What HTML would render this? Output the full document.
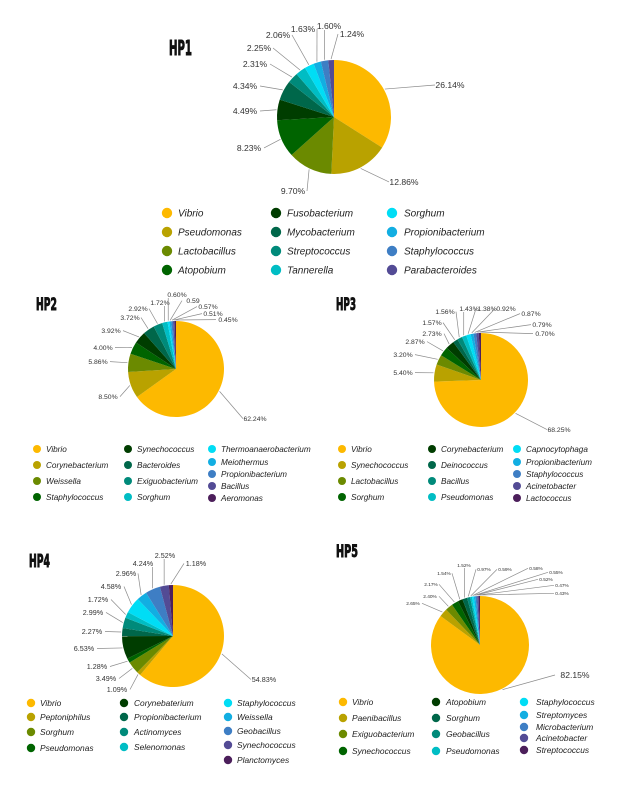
<!DOCTYPE html>
<html><head><meta charset="utf-8"><title>Microbial composition pies</title>
<style>
html,body{margin:0;padding:0;background:#fff;}
svg{display:block;}
</style></head>
<body>
<svg id="fig" xmlns="http://www.w3.org/2000/svg" width="619" height="800" viewBox="0 0 619 800"></svg>
<script>
// ===== data =====
const hp1Categories = ["Vibrio","Pseudomonas","Lactobacillus","Atopobium","Fusobacterium","Mycobacterium","Streptococcus","Tannerella","Sorghum","Propionibacterium","Staphylococcus","Parabacteroides"];
const hp1Values = [26.14,12.86,9.70,8.23,4.49,4.34,2.31,2.25,2.06,1.63,1.60,1.24];
const hp1Labels = ["26.14%","12.86%","9.70%","8.23%","4.49%","4.34%","2.31%","2.25%","2.06%","1.63%","1.60%","1.24%"];

const hp2Categories = ["Vibrio","Corynebacterium","Weissella","Staphylococcus","Synechococcus","Bacteroides","Exiguobacterium","Sorghum","Thermoanaerobacterium","Meiothermus","Propionibacterium","Bacillus","Aeromonas"];
const hp2Values = [62.24,8.50,5.86,4.00,3.92,3.72,2.92,1.72,0.60,0.59,0.57,0.51,0.45];
const hp2Labels = ["62.24%","8.50%","5.86%","4.00%","3.92%","3.72%","2.92%","1.72%","0.60%","0.59","0.57%","0.51%","0.45%"];

const hp3Categories = ["Vibrio","Synechococcus","Lactobacillus","Sorghum","Corynebacterium","Deinococcus","Bacillus","Pseudomonas","Capnocytophaga","Propionibacterium","Staphylococcus","Acinetobacter","Lactococcus"];
const hp3Values = [68.25,5.40,3.20,2.87,2.73,1.57,1.56,1.43,1.38,0.92,0.87,0.79,0.70];
const hp3Labels = ["68.25%","5.40%","3.20%","2.87%","2.73%","1.57%","1.56%","1.43%","1.38%","0.92%","0.87%","0.79%","0.70%"];

const hp4Categories = ["Vibrio","Peptoniphilus","Sorghum","Pseudomonas","Corynebaterium","Propionibacterium","Actinomyces","Selenomonas","Staphylococcus","Weissella","Geobacillus","Synechococcus","Planctomyces"];
const hp4Values = [54.83,1.09,3.49,1.28,6.53,2.27,2.99,1.72,4.58,2.96,4.24,2.52,1.18];
const hp4Labels = ["54.83%","1.09%","3.49%","1.28%","6.53%","2.27%","2.99%","1.72%","4.58%","2.96%","4.24%","2.52%","1.18%"];

const hp5Categories = ["Vibrio","Paenibacillus","Exiguobacterium","Synechococcus","Atopobium","Sorghum","Geobacillus","Pseudomonas","Staphylococcus","Streptomyces","Microbacterium","Acinetobacter","Streptococcus"];
const hp5Values = [82.15,2.65,2.40,2.17,1.54,1.52,0.97,0.59,0.58,0.55,0.52,0.47,0.43];
const hp5Labels = ["82.15%","2.65%","2.40%","2.17%","1.54%","1.52%","0.97%","0.59%","0.58%","0.55%","0.52%","0.47%","0.43%"];

// ===== layout (not data) =====
const palette = ["#FDB900","#B9A200","#6B8A00","#006400","#003D00","#00674A","#008A7A","#00BDC4","#00DDF5","#12AEE2","#3E7EC4","#534B95","#4C1F5B"];
const NS = "http://www.w3.org/2000/svg";
const svg = document.getElementById("fig");

const layouts = [
 {key:"hp1", title:"HP1", tx:169, ty:55, tw:23, tsize:20, cx:334, cy:117, r:57, lfont:8.6, lw:13,
  lpos:[[450,88],[404,185],[293,194],[249,151],[245,114],[245,89],[255,67],[259,51],[278,38],[303,32],[329,29],[352,37]],
  legFont:10, legR:5.2, legCols:[[167,178,[213,232,251,270]],[276,287,[213,232,251,270]],[392,404,[213,232,251,270]]], legSplit:[4,8]},
 {key:"hp2", title:"HP2", tx:36, ty:310, tw:21, tsize:17, cx:176, cy:369, r:48, lfont:6.8, lw:10,
  lpos:[[255,421],[108,399],[98,364],[103,350],[111,333],[130,320],[138,311],[160,305],[177,297],[193,303],[208,309],[213,316],[228,322]],
  legFont:8.2, legR:4, legCols:[[37,46,[449,465,481,497]],[128,137,[449,465,481,497]],[212,221,[449,462,474,486,498]]], legSplit:[4,8]},
 {key:"hp3", title:"HP3", tx:336, ty:310, tw:20, tsize:17, cx:481, cy:380, r:47, lfont:6.8, lw:10,
  lpos:[[559,432],[403,375],[403,357],[415,344],[432,336],[432,325],[445,314],[469,311],[487,311],[506,311],[531,316],[542,327],[545,336]],
  legFont:8.2, legR:4, legCols:[[342,351,[449,465,481,497]],[432,441,[449,465,481,497]],[517,526,[449,462,474,486,498]]], legSplit:[4,8]},
 {key:"hp4", title:"HP4", tx:29, ty:567, tw:21, tsize:18, cx:173, cy:636, r:51, lfont:7.2, lw:11,
  lpos:[[264,682],[117,692],[106,681],[97,669],[84,651],[92,634],[93,615],[98,602],[111,589],[126,576],[143,566],[165,558],[196,566]],
  legFont:8.4, legR:4.2, legCols:[[31,40,[703,717,732,748]],[124,134,[703,717,732,747]],[228,237,[703,717,731,745,760]]], legSplit:[4,8]},
 {key:"hp5", title:"HP5", tx:336, ty:557, tw:22, tsize:17, cx:480, cy:645, r:49, lfont:4.8, lw:7,
  lpos:[[575,678],[413,605],[430,598],[431,586],[444,575],[464,567],[484,571],[505,571],[536,570],[556,574],[546,581],[562,587],[562,595]],
  bigLabel:[575,678,8.6],
  legFont:8.4, legR:4.2, legCols:[[343,352,[702,718,734,751]],[436,446,[702,718,734,751]],[524,536,[702,715,727,738,750]]], legSplit:[4,8]}
];

const dataSets = {
 hp1:[hp1Categories,hp1Values,hp1Labels],
 hp2:[hp2Categories,hp2Values,hp2Labels],
 hp3:[hp3Categories,hp3Values,hp3Labels],
 hp4:[hp4Categories,hp4Values,hp4Labels],
 hp5:[hp5Categories,hp5Values,hp5Labels]
};

function mk(tag, parent){ const e=document.createElementNS(NS,tag); parent.appendChild(e); return e; }

layouts.forEach(L=>{
  const [cats, vals, labs] = dataSets[L.key];
  const g = mk("g", svg);
  
  

  const t = mk("text", g);
  
  
  t.setAttribute("x", L.tx); t.setAttribute("y", L.ty);
  t.setAttribute("font-family", "'Liberation Sans Narrow','DejaVu Sans Condensed',sans-serif");
  t.setAttribute("font-weight", "bold");
  t.setAttribute("font-size", L.tsize);
  t.setAttribute("textLength", L.tw);
  t.setAttribute("lengthAdjust", "spacingAndGlyphs");
  t.setAttribute("fill", "#111");
  t.setAttribute("stroke", "#111");
  t.setAttribute("stroke-width", "0.9");
  t.textContent = L.title;

  const total = vals.reduce((a,b)=>a+b,0);
  const angle = v => v/total*2*Math.PI;
  const pt = (a, rr) => [L.cx + rr*Math.sin(a), L.cy - rr*Math.cos(a)];
  let a0 = 0;
  vals.forEach((v,i)=>{
    const a1 = a0 + angle(v);
    const p0 = pt(a0, L.r), p1 = pt(a1, L.r);
    const large = (a1-a0) > Math.PI ? 1 : 0;
    const s = mk("path", g);
    
    
    s.setAttribute("d", `M${L.cx},${L.cy} L${p0[0]},${p0[1]} A${L.r},${L.r} 0 ${large} 1 ${p1[0]},${p1[1]} Z`);
    s.setAttribute("fill", palette[i % palette.length]);

    const am = (a0+a1)/2;
    const ps = pt(am, L.r + 1);
    let tx, ty, fs = L.lfont, hw = L.lw;
    const lp = L.lpos[i] || [L.cx + (L.r+20)*Math.sin(am), L.cy - (L.r+20)*Math.cos(am)];
    if (i===0 && L.bigLabel){ tx=L.bigLabel[0]; ty=L.bigLabel[1]; fs=L.bigLabel[2]; hw=18; }
    else { tx=lp[0]; ty=lp[1]; }
    let ex, ey;
    if (Math.abs(tx - ps[0]) < hw + 4 || ty < L.cy - L.r) {
      ex = tx + (ps[0] > tx ? Math.min(hw, ps[0]-tx) : -Math.min(hw, tx-ps[0]));
      ey = ty + 1;
      if (Math.abs(tx-ps[0]) > hw) { ex = tx + (ps[0]>tx ? hw+1 : -hw-1); ey = ty - fs*0.35; }
    } else {
      ex = tx + (ps[0] > tx ? hw + 2 : -hw - 2);
      ey = ty - fs*0.35;
    }
    const ln = mk("line", g);
    
    
    ln.setAttribute("x1", ps[0]); ln.setAttribute("y1", ps[1]);
    ln.setAttribute("x2", ex); ln.setAttribute("y2", ey);
    ln.setAttribute("stroke", "#8a8a8a"); ln.setAttribute("stroke-width", "0.7");

    const lt = mk("text", g);
    
    
    lt.setAttribute("x", tx); lt.setAttribute("y", ty);
    lt.setAttribute("text-anchor", "middle");
    lt.setAttribute("font-family", "'Liberation Sans',sans-serif");
    lt.setAttribute("font-size", fs);
    lt.setAttribute("fill", "#333");
    lt.textContent = labs[i];
    a0 = a1;
  });

  // legend
  cats.forEach((c,i)=>{
    let col, row;
    if (i < L.legSplit[0]) { col=0; row=i; }
    else if (i < L.legSplit[1]) { col=1; row=i-L.legSplit[0]; }
    else { col=2; row=i-L.legSplit[1]; }
    const C = L.legCols[col];
    const y = C[2][row] !== undefined ? C[2][row] : C[2][C[2].length-1] + 12;
    const dot = mk("circle", g);
    
    
    dot.setAttribute("cx", C[0]); dot.setAttribute("cy", y);
    dot.setAttribute("r", L.legR); dot.setAttribute("fill", palette[i % palette.length]);
    const lt = mk("text", g);
    
    
    lt.setAttribute("x", C[1]); lt.setAttribute("y", y + L.legFont*0.35);
    lt.setAttribute("font-family", "'Liberation Sans',sans-serif");
    lt.setAttribute("font-style", "italic");
    lt.setAttribute("font-size", L.legFont);
    lt.setAttribute("fill", "#222");
    lt.textContent = c;
  });
});
</script>
</body></html>
